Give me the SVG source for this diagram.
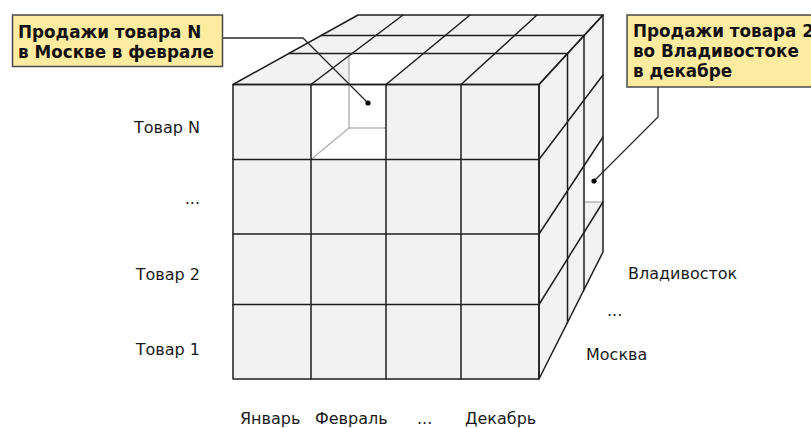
<svg xmlns="http://www.w3.org/2000/svg" width="811" height="428" viewBox="0 0 811 428">
<style>
.face{fill:#f2f2f2;stroke:none}
.cut{fill:#ffffff;stroke:none}
.grid{fill:none;stroke:#1e1e1e;stroke-width:1.5;stroke-linecap:round;stroke-linejoin:round}
.inner{fill:none;stroke:#b4b4b4;stroke-width:1.5}
.lbl{font-family:"DejaVu Sans",Verdana,sans-serif;font-size:16px;fill:#1a1a1a}
.end{text-anchor:end}
.box{fill:#fdeba0;stroke:#4a4a4a;stroke-width:1.5}
.btxt{font-family:"DejaVu Sans",Verdana,sans-serif;font-size:16.8px;font-weight:bold;fill:#111}
.lead{fill:none;stroke:#2a2a2a;stroke-width:1.3}
.dot{fill:#000}
</style>
<rect width="811" height="428" fill="#ffffff"/>
<g id="cube">
  <polygon class="face" points="233,84.5 539,84.5 539,379 233,379"/>
  <polygon class="face" points="233,84.5 539,84.5 603,15 358,15"/>
  <polygon class="face" points="539,84.5 603,15 603,252 539,379"/>
  <polygon class="cut" points="311,159.5 311,84.5 349,84.5 349,53.5 423.5,53.5 386,84.5 386,159.5"/>
  <polygon class="cut" points="584,165.8 603,137 603,202 584,202"/>
  <g class="inner">
    <line x1="349" y1="56.5" x2="349" y2="128"/>
    <line x1="349" y1="128" x2="386" y2="128"/>
    <line x1="349" y1="128" x2="311" y2="159.5"/>
    <line x1="584" y1="202" x2="603" y2="202"/>
  </g>
  <g class="grid">
    <rect x="233" y="84.5" width="306" height="294.5"/>
    <line x1="311" y1="84.5" x2="311" y2="379"/>
    <line x1="386" y1="84.5" x2="386" y2="379"/>
    <line x1="461" y1="84.5" x2="461" y2="379"/>
    <line x1="233" y1="159.5" x2="539" y2="159.5"/>
    <line x1="233" y1="234" x2="539" y2="234"/>
    <line x1="233" y1="304.5" x2="539" y2="304.5"/>
    <polygon points="233,84.5 539,84.5 603,15 358,15"/>
    <line x1="288.8" y1="53.5" x2="567.5" y2="53.5"/>
    <line x1="321" y1="35.6" x2="584" y2="35.6"/>
    <line x1="311" y1="84.5" x2="403" y2="15"/>
    <line x1="386" y1="84.5" x2="470" y2="15"/>
    <line x1="461" y1="84.5" x2="537" y2="15"/>
    <polygon points="539,84.5 603,15 603,252 539,379"/>
    <line x1="539" y1="159.5" x2="603" y2="75"/>
    <line x1="539" y1="234" x2="603" y2="137"/>
    <line x1="539" y1="304.5" x2="603" y2="202"/>
    <line x1="567.5" y1="53.5" x2="567.5" y2="322.5"/>
    <line x1="584" y1="35.6" x2="584" y2="289.7"/>
  </g>
</g>
<g id="labels">
  <text class="lbl end" x="200" y="133">Товар N</text>
  <text class="lbl end" x="200" y="204">...</text>
  <text class="lbl end" x="200" y="280">Товар 2</text>
  <text class="lbl end" x="200" y="355">Товар 1</text>
  <text class="lbl" x="240" y="424">Январь</text>
  <text class="lbl" x="315" y="424">Февраль</text>
  <text class="lbl" x="417" y="424">...</text>
  <text class="lbl" x="465" y="424">Декабрь</text>
  <text class="lbl" x="628" y="279">Владивосток</text>
  <text class="lbl" x="607" y="316">...</text>
  <text class="lbl" x="586" y="360">Москва</text>
</g>
<g id="connectors">
  <polyline class="lead" points="222.5,38 303,38 368,103"/>
  <polyline class="lead" points="658,87 658,117 594,181"/>
  <circle class="dot" cx="368" cy="103" r="2.6"/>
  <circle class="dot" cx="594" cy="181" r="2.6"/>
</g>
<g id="callout-moscow">
  <rect class="box" x="12.5" y="15" width="210" height="51.5"/>
  <text class="btxt" x="18" y="37.5">Продажи товара N</text>
  <text class="btxt" x="18" y="57.5">в Москве в феврале</text>
</g>
<g id="callout-vladivostok">
  <rect class="box" x="627" y="15" width="200" height="72"/>
  <text class="btxt" x="633" y="37">Продажи товара 2</text>
  <text class="btxt" x="633" y="57">во Владивостоке</text>
  <text class="btxt" x="633" y="77">в декабре</text>
</g>
</svg>
